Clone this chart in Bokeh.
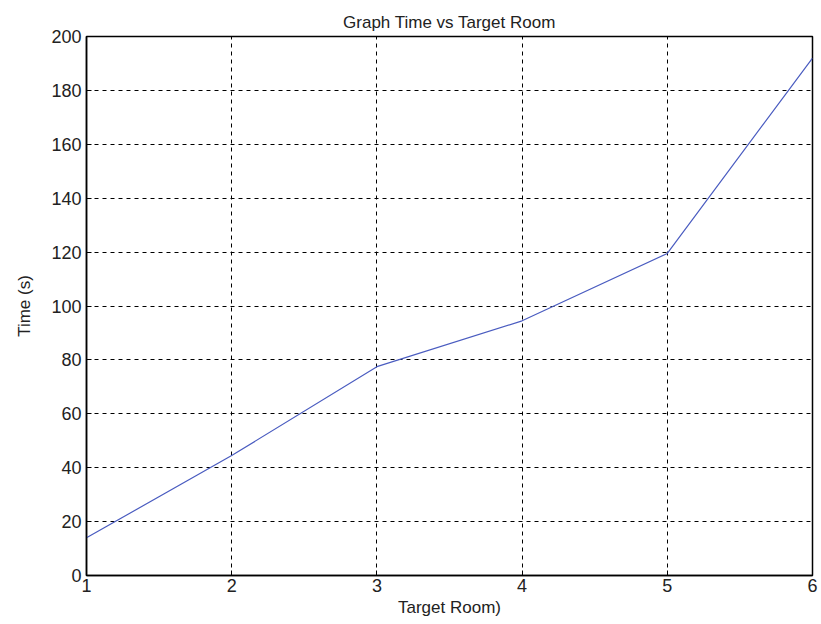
from bokeh.plotting import figure
from bokeh.models import Range1d, FixedTicker
from bokeh.embed import file_html
from bokeh.resources import INLINE

rooms = [1, 2, 3, 4, 5, 6]
times = [14, 44.5, 77.5, 94.5, 119.5, 192]
x_ticks = [1, 2, 3, 4, 5, 6]
y_ticks = [0, 20, 40, 60, 80, 100, 120, 140, 160, 180, 200]

FONT = "Liberation Sans"

p = figure(frame_width=726, frame_height=539, output_backend="svg", toolbar_location=None,
           x_range=Range1d(1, 6), y_range=Range1d(0, 200),
           min_border_left=86, min_border_right=8, min_border_top=36, min_border_bottom=45,
           title="Graph Time vs Target Room")
p.title.align = "center"
p.title.text_font = FONT
p.title.text_font_size = "17px"
p.title.text_font_style = "normal"
p.title.text_color = "#222222"
p.title.offset = 0

p.line(rooms, times, line_color="#4a5cc0", line_width=1.2)

for ax in (p.xaxis[0], p.yaxis[0]):
    ax.major_tick_in = 5
    ax.major_tick_out = 0
    ax.minor_tick_in = 0
    ax.minor_tick_out = 0
    ax.axis_line_color = "black"
    ax.axis_line_width = 1.5
    ax.major_label_text_font = FONT
    ax.major_label_text_font_size = "18px"
    ax.major_label_text_color = "#222222"
    ax.axis_label_text_font = FONT
    ax.axis_label_text_font_size = "17px"
    ax.axis_label_text_font_style = "normal"
    ax.axis_label_text_color = "#222222"

p.xaxis.ticker = FixedTicker(ticks=x_ticks)
p.yaxis.ticker = FixedTicker(ticks=y_ticks)
p.xaxis.axis_label = "Target Room)"
p.yaxis.axis_label = "Time (s)"
p.xaxis.axis_label_standoff = 3
p.yaxis.axis_label_standoff = 14
p.xaxis.major_label_standoff = 3
p.yaxis.major_label_standoff = 5

p.xgrid.ticker = FixedTicker(ticks=x_ticks)
p.ygrid.ticker = FixedTicker(ticks=y_ticks)
p.grid.grid_line_color = "black"
p.grid.grid_line_dash = "4 4"
p.grid.grid_line_width = 1
p.outline_line_color = "black"
p.outline_line_width = 1.5

open("out.html", "w").write(file_html(p, INLINE))
